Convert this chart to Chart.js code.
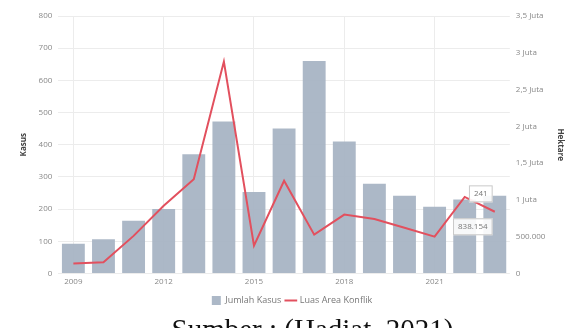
<!DOCTYPE html>
<html>
<head>
<meta charset="utf-8">
<script src="https://cdn.jsdelivr.net/npm/chart.js@4.4.0/dist/chart.umd.min.js"></script>
<style>
  body { margin: 0; background: #fff; width: 569px; height: 328px; overflow: hidden; position: relative; }
  #wrap { position: absolute; left: 0; top: 0; width: 569px; height: 315px; }
  #caption { position: absolute; left: 0; width: 569px; top: 313px; text-align: center;
    font-family: "Liberation Serif", serif; font-size: 29px; color: #111; padding-left: 56px; box-sizing: border-box; }
</style>
</head>
<body>
<div id="wrap"><canvas id="chartKonflik"></canvas></div>
<div id="caption">Sumber : (Hadiat, 2021)</div>
<script>
// data
const tahun = ['2009', '2010', '2011', '2012', '2013', '2014', '2015', '2016', '2017', '2018', '2019', '2020', '2021', '2022', '2023'];
const jumlahKasus = [92, 106, 164, 200, 370, 472, 253, 450, 660, 410, 279, 241, 207, 230, 241];
const luasArea = [135000, 150000, 510000, 920000, 1280000, 2880000, 378000, 1260000, 527000, 800000, 740000, 620000, 500000, 1040000, 838154];

// 838154 -> "838.154"
function titik(v) {
  return String(Math.round(v)).replace(/\B(?=(\d{3})+(?!\d))/g, '.');
}

function formatHektare(v) {
  if (v === 0) return '0';
  if (v >= 1000000) return String(v / 1000000).replace('.', ',') + ' Juta';
  return titik(v);
}

// label kecil pada titik terakhir
const labelTerakhir = {
  id: 'labelTerakhir',
  afterDatasetsDraw(chart) {
    const ctx = chart.ctx;
    const i = tahun.length - 1;
    const bar = chart.getDatasetMeta(0).data[i];
    const pt = chart.getDatasetMeta(1).data[i];
    const kotak = (text, cx, cy) => {
      ctx.save();
      ctx.font = '8px "Open Sans"';
      const w = ctx.measureText(text).width + 10;
      const h = 17;
      ctx.fillStyle = 'rgba(255,255,255,0.9)';
      ctx.strokeStyle = '#c9c9c9';
      ctx.lineWidth = 1;
      ctx.fillRect(cx - w / 2, cy - h / 2, w, h);
      ctx.strokeRect(cx - w / 2 + 0.5, cy - h / 2 + 0.5, w - 1, h - 1);
      ctx.fillStyle = '#777';
      ctx.textAlign = 'center';
      ctx.textBaseline = 'middle';
      ctx.fillText(text, cx, cy);
      ctx.restore();
    };
    kotak(String(jumlahKasus[i]), bar.x - 14, bar.y - 2);
    kotak(titik(luasArea[i]), pt.x - 22, pt.y + 15);
  }
};

const ctxKonflik = document.getElementById('chartKonflik').getContext('2d');
new Chart(ctxKonflik, {
  type: 'bar',
  data: {
    labels: tahun,
    datasets: [{
      label: 'Jumlah Kasus',
      data: jumlahKasus,
      backgroundColor: 'rgba(168, 180, 196, 0.95)',
      borderWidth: 0,
      categoryPercentage: 0.8,
      barPercentage: 0.95,
      yAxisID: 'y',
      pointStyle: 'rect',
      order: 2
    }, {
      type: 'line',
      label: 'Luas Area Konflik',
      data: luasArea,
      borderColor: '#e2505e',
      backgroundColor: '#e2505e',
      borderWidth: 2,
      pointRadius: 0,
      tension: 0,
      yAxisID: 'y1',
      pointStyle: 'line',
      order: 1
    }]
  },
  options: {
    responsive: true,
    maintainAspectRatio: false,
    animation: false,
    layout: { padding: { left: 15, right: 0, top: 16, bottom: 0 } },
    plugins: {
      legend: {
        position: 'bottom',
        labels: {
          usePointStyle: true,
          boxWidth: 16,
          boxHeight: 11,
          padding: 5,
          color: '#777',
          font: { size: 9, family: '"Open Sans"' },
          sort: (a, b) => a.datasetIndex - b.datasetIndex
        }
      },
      tooltip: { enabled: false }
    },
    scales: {
      x: {
        offset: true,
        grid: { offset: false, color: '#ececec', drawTicks: false },
        border: { display: false },
        ticks: {
          autoSkip: false,
          maxRotation: 0,
          padding: 4,
          color: '#888',
          font: { size: 8, family: '"Open Sans"' },
          callback: function (val, i) { return i % 3 === 0 ? tahun[i] : null; }
        }
      },
      y: {
        position: 'left',
        min: 0,
        max: 800,
        ticks: { stepSize: 100, color: '#888', padding: 6, font: { size: 8, family: '"Open Sans"' } },
        grid: { color: '#ececec', drawTicks: false },
        border: { display: false },
        title: { display: true, text: 'Kasus', color: '#444', font: { size: 8, weight: 'bold', family: '"Open Sans"' } }
      },
      y1: {
        position: 'right',
        min: 0,
        max: 3500000,
        ticks: {
          stepSize: 500000,
          color: '#888',
          padding: 6,
          font: { size: 8, family: '"Open Sans"' },
          callback: v => formatHektare(v)
        },
        grid: { drawOnChartArea: false, drawTicks: false },
        border: { display: false },
        title: { display: true, text: 'Hektare', color: '#444', font: { size: 8, weight: 'bold', family: '"Open Sans"' } }
      }
    }
  },
  plugins: [labelTerakhir]
});
</script>
</body>
</html>
